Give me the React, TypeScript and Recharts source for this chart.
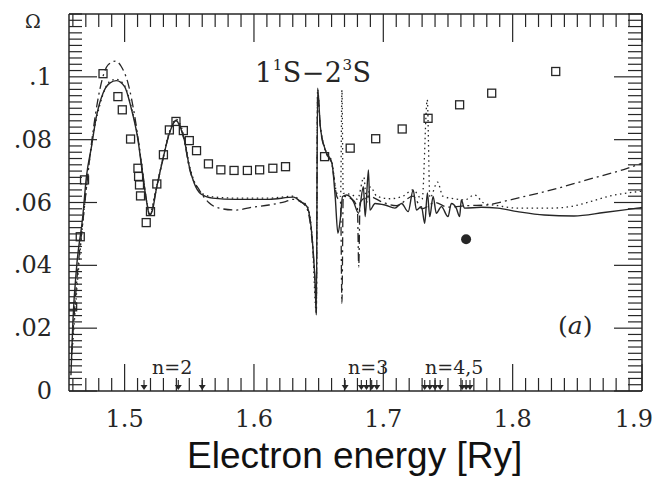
import React from 'react';
import { ComposedChart, Line, Scatter, XAxis, YAxis } from 'recharts';

const INK = '#262626';

// [electron energy (Ry), collision strength Omega]
const solidCurve = [
  [1.4585, 0.005], [1.46, 0.022], [1.463, 0.04], [1.4675, 0.055], [1.4705, 0.0683],
  [1.4744, 0.0778], [1.4782, 0.0874], [1.4833, 0.0948], [1.4885, 0.098], [1.4936, 0.0988],
  [1.5, 0.0969], [1.5051, 0.09], [1.5103, 0.08], [1.5141, 0.0683], [1.5172, 0.0598],
  [1.5192, 0.056], [1.5215, 0.0575], [1.5244, 0.064], [1.5295, 0.0736], [1.5346, 0.082],
  [1.5397, 0.0862], [1.543, 0.084], [1.5462, 0.0799], [1.55, 0.0714], [1.5538, 0.0661],
  [1.559, 0.0627], [1.5679, 0.0614], [1.5859, 0.061], [1.6115, 0.061], [1.6308, 0.0617],
  [1.6359, 0.0603], [1.641, 0.0587], [1.6449, 0.049], [1.6474, 0.033], [1.6482, 0.0242],
  [1.6492, 0.0964], [1.6513, 0.0842], [1.6551, 0.0768], [1.6603, 0.0725], [1.6628, 0.0619],
  [1.6649, 0.0502], [1.6667, 0.0545], [1.6685, 0.0619], [1.6718, 0.0624], [1.6769, 0.0603],
  [1.6808, 0.0566], [1.6846, 0.065], [1.686, 0.0555], [1.6885, 0.0704], [1.6897, 0.0576],
  [1.6936, 0.0597], [1.7013, 0.0592], [1.709, 0.0582], [1.7141, 0.0597], [1.7192, 0.0571],
  [1.7231, 0.064], [1.7256, 0.0576], [1.7295, 0.0587], [1.732, 0.0534], [1.7341, 0.063],
  [1.7359, 0.0555], [1.7385, 0.0619], [1.741, 0.0566], [1.7449, 0.0587], [1.75, 0.0555],
  [1.7526, 0.0597], [1.7564, 0.0582], [1.759, 0.0555], [1.7603, 0.0608], [1.7628, 0.0582],
  [1.7756, 0.0585], [1.7885, 0.0582], [1.8038, 0.0571], [1.8244, 0.056], [1.8474, 0.0557],
  [1.8705, 0.0568], [1.8962, 0.0582], [1.9, 0.0584],
];

const dashDotCurve = [
  [1.459, 0.012], [1.463, 0.035], [1.468, 0.055], [1.4744, 0.0789], [1.4808, 0.0959],
  [1.4872, 0.1038], [1.493, 0.105], [1.4974, 0.1033], [1.5026, 0.098], [1.508, 0.087],
  [1.5141, 0.069], [1.5172, 0.06], [1.5195, 0.056], [1.5244, 0.064], [1.5295, 0.0736],
  [1.5346, 0.082], [1.5397, 0.086], [1.5462, 0.0795], [1.55, 0.071], [1.5577, 0.064],
  [1.565, 0.06], [1.5731, 0.0582], [1.5859, 0.0576], [1.5987, 0.0585], [1.6115, 0.0592],
  [1.6244, 0.0603], [1.63, 0.061], [1.6359, 0.0603], [1.641, 0.058], [1.6449, 0.048],
  [1.6474, 0.033], [1.6482, 0.025], [1.6492, 0.095], [1.6513, 0.084], [1.6551, 0.0765],
  [1.6603, 0.072], [1.664, 0.062], [1.667, 0.06], [1.668, 0.028], [1.669, 0.062],
  [1.676, 0.061], [1.68, 0.058], [1.681, 0.0395], [1.682, 0.06], [1.6885, 0.062],
  [1.7, 0.06], [1.71, 0.059], [1.7231, 0.062], [1.73, 0.058], [1.74, 0.06],
  [1.75, 0.0585], [1.765, 0.059], [1.78, 0.0592], [1.7885, 0.0599], [1.8038, 0.0614],
  [1.83, 0.064], [1.86, 0.0675], [1.8858, 0.0705], [1.9, 0.0725],
];

const dottedCurve = [
  [1.459, 0.01], [1.463, 0.032], [1.468, 0.055], [1.4744, 0.078], [1.4808, 0.091],
  [1.4885, 0.0985], [1.4936, 0.0992], [1.5, 0.0972], [1.5051, 0.0905], [1.5103, 0.0805],
  [1.5141, 0.069], [1.5172, 0.06], [1.5192, 0.0565], [1.5244, 0.0645], [1.5295, 0.074],
  [1.5346, 0.0825], [1.5397, 0.0865], [1.5462, 0.0805], [1.55, 0.072], [1.5538, 0.0668],
  [1.559, 0.0632], [1.5679, 0.0618], [1.5859, 0.0614], [1.6115, 0.0614], [1.6308, 0.062],
  [1.6359, 0.0605], [1.641, 0.059], [1.6449, 0.0495], [1.6482, 0.025], [1.6492, 0.096],
  [1.6513, 0.0845], [1.6551, 0.077], [1.6603, 0.0728], [1.664, 0.063], [1.667, 0.062],
  [1.668, 0.0958], [1.669, 0.063], [1.676, 0.0625], [1.68, 0.061], [1.685, 0.068],
  [1.687, 0.06], [1.69, 0.065], [1.695, 0.062], [1.705, 0.0612], [1.715, 0.062],
  [1.723, 0.064], [1.73, 0.061], [1.734, 0.0927], [1.736, 0.0615], [1.742, 0.0665],
  [1.746, 0.062], [1.755, 0.0612], [1.7628, 0.0608], [1.7705, 0.0624], [1.7782, 0.0597],
  [1.7885, 0.059], [1.8038, 0.0582], [1.8295, 0.0582], [1.8449, 0.0587], [1.8603, 0.0603],
  [1.8756, 0.0621], [1.8936, 0.0633], [1.9, 0.0636],
];

const measuredSquares = [
  [1.4598, 0.0268], [1.4657, 0.0491], [1.469, 0.0672], [1.4833, 0.101], [1.4948, 0.0937],
  [1.4982, 0.0895], [1.5046, 0.0802], [1.5103, 0.0709], [1.5108, 0.0683], [1.5115, 0.0656],
  [1.5123, 0.0621], [1.5167, 0.0536], [1.52, 0.0571], [1.5249, 0.0659], [1.53, 0.0752],
  [1.5346, 0.0831], [1.5397, 0.0858], [1.5454, 0.0829], [1.55, 0.0797], [1.5556, 0.0765],
  [1.5648, 0.0723], [1.5744, 0.0704], [1.5846, 0.0702], [1.5949, 0.0702], [1.6044, 0.0704],
  [1.6146, 0.0709], [1.6244, 0.0714], [1.6546, 0.0746], [1.6744, 0.0773], [1.6941, 0.0803],
  [1.7146, 0.0834], [1.7346, 0.0868], [1.759, 0.0911], [1.7838, 0.0948], [1.8333, 0.1017],
];

const singleMeasurement = [[1.764, 0.0483]];

// n=2, n=3 and n=4,5 thresholds marked on the energy axis
const thresholdArrows = [
  1.515, 1.5415, 1.56,
  1.6705, 1.683, 1.687, 1.691, 1.695,
  1.732, 1.736, 1.74, 1.744, 1.761, 1.764, 1.767,
];

const xMajorTicks = [1.5, 1.6, 1.7, 1.8, 1.9];
const xTickLabels = ['1.5', '1.6', '1.7', '1.8', '1.9'];
const yMajorTicks = [0, 0.02, 0.04, 0.06, 0.08, 0.1];
const yTickLabels = ['0', '.02', '.04', '.06', '.08', '.1'];

const toPoints = (rows: number[][]) => rows.map(([x, y]) => ({ x, y }));

const xMinorTicks: number[] = [];
for (let i = 146; i <= 190; i++) xMinorTicks.push(+(i / 100).toFixed(2));
const yMinorTicks: number[] = [];
for (let i = 0; i <= 60; i++) yMinorTicks.push(+(i * 0.002).toFixed(3));

const majorIndex = (list: number[], v: number) => list.findIndex((t) => Math.abs(t - v) < 1e-6);

const SERIF = 'DejaVu Serif';

const BottomTick = ({ x, y, payload }: any) => {
  const i = majorIndex(xMajorTicks, payload.value);
  const last = i === xMajorTicks.length - 1;
  return (
    <g>
      <line x1={x} x2={x} y1={y} y2={y - (i >= 0 ? 27 : 13)} stroke={INK} strokeWidth={1.2} />
      {i >= 0 && (
        <text
          x={last ? x + 11 : x}
          y={y + 36}
          textAnchor={last ? 'end' : 'middle'}
          fontSize={24}
          fontFamily={SERIF}
          fill={INK}
        >
          {xTickLabels[i]}
        </text>
      )}
    </g>
  );
};

const TopTick = ({ x, y, payload }: any) => {
  const major = majorIndex(xMajorTicks, payload.value) >= 0;
  return <line x1={x} x2={x} y1={y} y2={y + (major ? 28 : 13)} stroke={INK} strokeWidth={1.2} />;
};

const LeftTick = ({ x, y, payload }: any) => {
  const i = majorIndex(yMajorTicks, payload.value);
  return (
    <g>
      <line x1={x} x2={x + (i >= 0 ? 28 : 13)} y1={y} y2={y} stroke={INK} strokeWidth={1.2} />
      {i >= 0 && (
        <text x={x - 17} y={y + 8} textAnchor="end" fontSize={24} fontFamily={SERIF} fill={INK}>
          {yTickLabels[i]}
        </text>
      )}
    </g>
  );
};

const RightTick = ({ x, y, payload }: any) => {
  const major = majorIndex(yMajorTicks, payload.value) >= 0;
  return <line x1={x} x2={x - (major ? 28 : 14)} y1={y} y2={y} stroke={INK} strokeWidth={1.2} />;
};

const SquareShape = ({ cx, cy }: any) => (
  <rect x={cx - 4} y={cy - 4} width={8} height={8} fill="none" stroke={INK} strokeWidth={1.3} />
);

const DotShape = ({ cx, cy }: any) => <circle cx={cx} cy={cy} r={5} fill={INK} />;

const ArrowShape = ({ cx, cy }: any) => (
  <g>
    <line x1={cx} x2={cx} y1={cy - 11} y2={cy - 4} stroke={INK} strokeWidth={1.1} />
    <path d={`M${cx - 3.5},${cy - 6} L${cx + 3.5},${cy - 6} L${cx},${cy - 1} Z`} fill={INK} />
  </g>
);

const W = 649;
const H = 470;

export default function App() {
  const axisLine = { stroke: INK, strokeWidth: 1.5 };
  return (
    <div style={{ position: 'relative', width: W, height: H, background: '#fff' }}>
      <ComposedChart width={W} height={H} margin={{ top: 5, right: 14, left: 60, bottom: 86 }}>
        <XAxis
          xAxisId={0}
          dataKey="x"
          type="number"
          domain={[1.457, 1.9]}
          allowDataOverflow
          ticks={xMinorTicks}
          interval={0}
          tickSize={0}
          tickMargin={0}
          height={1}
          axisLine={axisLine}
          tick={<BottomTick />}
        />
        <XAxis
          xAxisId="top"
          orientation="top"
          dataKey="x"
          type="number"
          domain={[1.457, 1.9]}
          allowDataOverflow
          ticks={xMinorTicks}
          interval={0}
          tickSize={0}
          tickMargin={0}
          height={1}
          axisLine={axisLine}
          tick={<TopTick />}
        />
        <YAxis
          yAxisId={0}
          dataKey="y"
          type="number"
          domain={[0, 0.12]}
          allowDataOverflow
          ticks={yMinorTicks}
          interval={0}
          tickSize={0}
          tickMargin={0}
          width={1}
          axisLine={axisLine}
          tick={<LeftTick />}
        />
        <YAxis
          yAxisId="right"
          orientation="right"
          dataKey="y"
          type="number"
          domain={[0, 0.12]}
          allowDataOverflow
          ticks={yMinorTicks}
          interval={0}
          tickSize={0}
          tickMargin={0}
          width={1}
          axisLine={axisLine}
          tick={<RightTick />}
        />
        <Line
          data={toPoints(dottedCurve)}
          dataKey="y"
          type="monotoneX"
          stroke={INK}
          strokeWidth={1.3}
          strokeDasharray="1.5 3.5"
          dot={false}
          activeDot={false}
          isAnimationActive={false}
        />
        <Line
          data={toPoints(dashDotCurve)}
          dataKey="y"
          type="monotoneX"
          stroke={INK}
          strokeWidth={1.3}
          strokeDasharray="9 4 2 4"
          dot={false}
          activeDot={false}
          isAnimationActive={false}
        />
        <Line
          data={toPoints(solidCurve)}
          dataKey="y"
          type="monotoneX"
          stroke={INK}
          strokeWidth={1.4}
          dot={false}
          activeDot={false}
          isAnimationActive={false}
        />
        <Scatter data={toPoints(measuredSquares)} shape={<SquareShape />} isAnimationActive={false} />
        <Scatter data={toPoints(singleMeasurement)} shape={<DotShape />} isAnimationActive={false} />
        <Scatter
          data={thresholdArrows.map((x) => ({ x, y: 0 }))}
          shape={<ArrowShape />}
          isAnimationActive={false}
        />
      </ComposedChart>
      <svg
        width={W}
        height={H}
        style={{ position: 'absolute', left: 0, top: 0, pointerEvents: 'none' }}
      >
        <text x={25} y={20} textAnchor="middle" fontSize={19} fontFamily={SERIF} fill={INK}>
          Ω
        </text>
        <text x={247} y={74} fontSize={27} fontFamily={SERIF} fill={INK} textLength={116}>
          1<tspan fontSize={15} dy={-12}>1</tspan>
          <tspan dy={12}>S−2</tspan>
          <tspan fontSize={15} dy={-12}>3</tspan>
          <tspan dy={12}>S</tspan>
        </text>
        <text x={550} y={326} fontSize={25} fontFamily={SERIF} fill={INK}>
          (<tspan fontStyle="italic">a</tspan>)
        </text>
        <text x={144} y={366} fontSize={19} fontFamily={SERIF} fill={INK}>n=2</text>
        <text x={340} y={366} fontSize={19} fontFamily={SERIF} fill={INK}>n=3</text>
        <text x={417} y={366} fontSize={19} fontFamily={SERIF} fill={INK}>n=4,5</text>
        <text x={179} y={460} fontSize={37} fontFamily="Liberation Sans" fill="#111">
          Electron energy [Ry]
        </text>
      </svg>
    </div>
  );
}
